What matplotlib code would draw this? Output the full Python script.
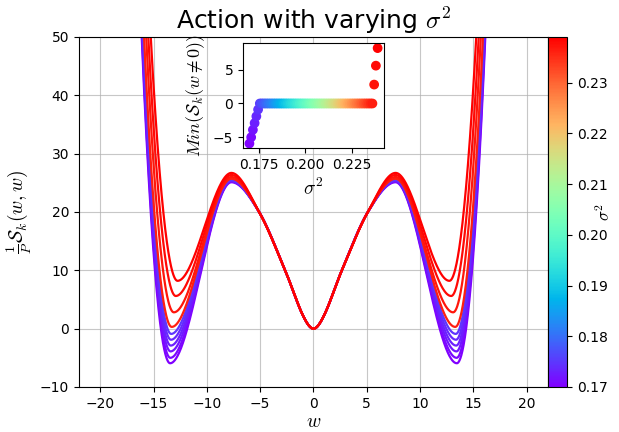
import numpy as np
import matplotlib
matplotlib.use("Agg")
import matplotlib.pyplot as plt

plt.rcParams["mathtext.fontset"] = "cm"

# sweep of sigma^2 used for the inset scatter
sigma2_lo, sigma2_hi, n_sigma = 0.17, 0.239, 75
sigma2 = np.linspace(sigma2_lo, sigma2_hi, n_sigma)
# minimum of the action away from w = 0
min_action = [-5.93, -5.0, -3.9, -2.9, -1.9, -0.9] + [0.0] * 66 + [2.8, 5.6, 8.2]

# curves drawn in the main panel (sigma^2 of each one)
curve_sigma2 = [0.1700, 0.1709, 0.1719, 0.1728, 0.1737, 0.1747, 0.2362, 0.2371, 0.2381, 0.2390]
# read features of each curve (w >= 0 half, the curves are symmetric)
peak_w = 7.7
peak_S = [25.1, 25.2, 25.3, 25.35, 25.45, 25.5, 25.7, 26.0, 26.35, 26.7]
well_w = [13.45, 13.43, 13.41, 13.39, 13.37, 13.35, 13.3, 13.1, 12.92, 12.75]
well_S = [-5.93, -5.0, -3.9, -2.9, -1.9, -0.9, 0.3, 2.8, 5.6, 8.2]
wall_w = [16.12, 16.09, 16.06, 16.03, 16.0, 15.97, 15.9, 15.7, 15.5, 15.27]  # where S = 50
# shared inner part of all curves
inner_w = [0.0, 1.0, 2.66, 5.1]
inner_S = [0.0, 2.3, 10.0, 20.0]


def hermite(xk, yk, mk, x):
    xk, yk, mk = map(np.asarray, (xk, yk, mk))
    i = np.clip(np.searchsorted(xk, x) - 1, 0, len(xk) - 2)
    h = xk[i + 1] - xk[i]
    t = (x - xk[i]) / h
    return ((2 * t**3 - 3 * t**2 + 1) * yk[i] + (t**3 - 2 * t**2 + t) * h * mk[i]
            + (-2 * t**3 + 3 * t**2) * yk[i + 1] + (t**3 - t**2) * h * mk[i + 1])


def curve(k):
    wall_slope = 2 * (50 - well_S[k]) / (wall_w[k] - well_w[k])
    xk = inner_w + [peak_w, well_w[k], wall_w[k], wall_w[k] + 0.5]
    yk = inner_S + [peak_S[k], well_S[k], 50.0, 50.0 + 0.5 * wall_slope]
    mk = [0.0]
    for j in range(1, len(inner_w)):
        mk.append((yk[j + 1] - yk[j - 1]) / (xk[j + 1] - xk[j - 1]))
    mk += [0.0, 0.0, wall_slope, wall_slope]
    w = np.linspace(0, xk[-1], 800)
    S = hermite(xk, yk, mk, w)
    return np.concatenate([-w[::-1], w]), np.concatenate([S[::-1], S])


cmap = plt.get_cmap("rainbow")
norm = plt.Normalize(sigma2_lo, sigma2_hi)

fig = plt.figure(figsize=(6.19, 4.32), dpi=100)
ax = fig.add_axes([0.1276, 0.1042, 0.7577, 0.8102])
for k, s2 in enumerate(curve_sigma2):
    w, S = curve(k)
    ax.plot(w, S, color=cmap(norm(s2)), lw=1.6)
ax.set_xlim(-22, 22)
ax.set_ylim(-10, 50)
ax.grid(True, alpha=0.7)
ax.tick_params(labelsize=10)
ax.set_xlabel(r"$w$", fontsize=14, labelpad=1)
ax.set_ylabel(r"$\frac{1}{P}\mathcal{S}_k(w,w)$", fontsize=14)
ax.set_title(r"Action with varying $\sigma^2$", fontsize=18)

cax = fig.add_axes([0.8853, 0.1042, 0.0307, 0.8102])
sm = plt.cm.ScalarMappable(norm=norm, cmap=cmap)
cb = fig.colorbar(sm, cax=cax)
cb.ax.tick_params(labelsize=10)
cb.set_label(r"$\sigma^2$", fontsize=12)
cb.ax.yaxis.set_label_coords(2.55, 0.5)

ins = fig.add_axes([0.3926, 0.6567, 0.2278, 0.243])
ins.scatter(sigma2, min_action, c=sigma2, cmap=cmap, norm=norm, s=36)
ins.set_xticks([0.175, 0.2, 0.225])
ins.tick_params(labelsize=10)
ins.set_xlabel(r"$\sigma^2$", fontsize=14)
ins.set_ylabel(r"$Min(\mathcal{S}_k(w\neq0))$", fontsize=13)

fig.savefig("out.png")
